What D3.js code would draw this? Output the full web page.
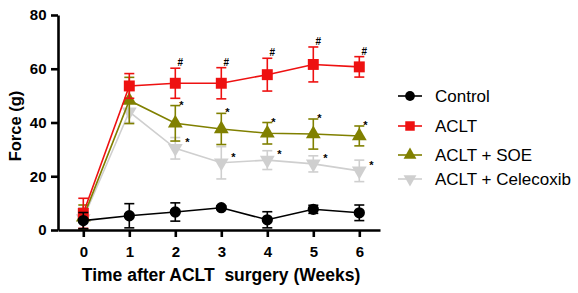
<!DOCTYPE html>
<html><head><meta charset="utf-8">
<script src="https://cdn.jsdelivr.net/npm/d3@7"></script>
<style>body{margin:0;background:#fff}svg{display:block}</style>
</head><body>
<svg id="c" width="578" height="293"></svg>
<script>
const weeks = [0,1,2,3,4,5,6];
const yTicks = [0,20,40,60,80];
const seriesNames = ["Control","ACLT","ACLT + SOE","ACLT + Celecoxib"];
const controlMean = [3.5,5.3,6.7,8.3,3.8,7.7,6.4];
const controlErr  = [3.0,4.5,3.4,0.6,3.0,1.5,2.9];
const acltMean    = [6.2,53.6,54.6,54.6,57.8,61.6,60.7];
const acltErr     = [5.6,4.6,5.6,5.8,6.1,6.5,3.8];
const soeMean     = [4.8,48.2,39.7,37.6,36.0,35.7,35.0];
const soeErr      = [4.5,8.6,6.6,5.8,4.0,5.6,3.7];
const celMean     = [4.3,44.0,30.4,25.0,26.0,24.6,22.0];
const celErr      = [4.0,4.0,4.0,6.0,3.5,3.0,4.0];
const acltMarks   = ["","","#","#","#","#","#"];
const soeMarks    = ["","","*","*","*","*","*"];
const celMarks    = ["","","*","*","*","*","*"];
const xTitle = "Time after ACLT  surgery (Weeks)";
const yTitle = "Force (g)";

const colors = ["#000000","#ee1111","#808000","#cfcfcf"];
const shapes = [d3.symbolCircle,d3.symbolSquare,d3.symbolTriangle,"down"];
const series = [
  {name:seriesNames[0],mean:controlMean,err:controlErr,marks:null},
  {name:seriesNames[1],mean:acltMean,err:acltErr,marks:acltMarks},
  {name:seriesNames[2],mean:soeMean,err:soeErr,marks:soeMarks},
  {name:seriesNames[3],mean:celMean,err:celErr,marks:celMarks}
];

const svg = d3.select("#c");
const x = d3.scaleLinear().domain([-0.55,6.45]).range([58,380]);
const y = d3.scaleLinear().domain([0,80]).range([230,15]);
const font = "Liberation Sans, Arial, sans-serif";

function symPath(i,size){
  if(shapes[i]==="down"){
    return d3.symbol().type(d3.symbolTriangle).size(size)();
  }
  return d3.symbol().type(shapes[i]).size(size)();
}
const sizes = [100,120,95,95];

const order = [3,2,1,0];
order.forEach(i=>{
  const s = series[i];
  const g = svg.append("g");
  const line = d3.line().x((d,j)=>x(weeks[j])).y(d=>y(d));
  g.append("path").attr("d",line(s.mean)).attr("fill","none")
    .attr("stroke",colors[i]).attr("stroke-width",1.6);
  weeks.forEach((w,j)=>{
    const cx = x(w), t = y(s.mean[j]+s.err[j]), b = y(Math.max(0,s.mean[j]-s.err[j]));
    g.append("line").attr("x1",cx).attr("x2",cx).attr("y1",t).attr("y2",b)
      .attr("stroke",colors[i]).attr("stroke-width",1.6);
    [t,b].forEach(yy=>g.append("line").attr("x1",cx-5).attr("x2",cx+5).attr("y1",yy).attr("y2",yy)
      .attr("stroke",colors[i]).attr("stroke-width",1.6));
  });
  weeks.forEach((w,j)=>{
    const rot = shapes[i]==="down" ? " rotate(180)" : "";
    g.append("path").attr("d",symPath(i,sizes[i]))
      .attr("transform",`translate(${x(w)},${y(s.mean[j])})${rot}`)
      .attr("fill",colors[i]);
  });
});

weeks.forEach((w,j)=>{
  if(acltMarks[j]) svg.append("text").attr("x",x(w)+5).attr("y",y(acltMean[j]+acltErr[j])-2)
    .attr("text-anchor","middle").attr("font-family",font).attr("font-size",10).attr("font-weight","bold").text(acltMarks[j]);
  if(soeMarks[j]) svg.append("text").attr("x",x(w)+6).attr("y",y(soeMean[j]+soeErr[j])+3)
    .attr("text-anchor","middle").attr("font-family",font).attr("font-size",11).attr("font-weight","bold").text(soeMarks[j]);
  if(celMarks[j]) svg.append("text").attr("x",x(w)+12).attr("y",y(celMean[j])-2)
    .attr("text-anchor","middle").attr("font-family",font).attr("font-size",11).attr("font-weight","bold").text(celMarks[j]);
});

const xa = svg.append("g").attr("transform","translate(0,230)")
  .call(d3.axisBottom(x).tickValues(weeks).tickFormat(d3.format("d")).tickSize(7).tickSizeOuter(0));
const ya = svg.append("g").attr("transform","translate(58,0)")
  .call(d3.axisLeft(y).tickValues(yTicks).tickSize(7).tickSizeOuter(0));
[xa,ya].forEach(a=>{
  a.select(".domain").attr("stroke","#000").attr("stroke-width",2.6);
  a.selectAll(".tick line").attr("stroke","#000").attr("stroke-width",2.6);
  a.selectAll(".tick text").attr("font-family",font).attr("font-size",15).attr("font-weight","bold").attr("fill","#000");
});
xa.selectAll(".tick text").attr("dy","1.1em");
ya.selectAll(".tick text").attr("dx","-0.1em");

svg.append("text").attr("x",221).attr("y",281).attr("text-anchor","middle")
  .attr("xml:space","preserve").style("white-space","pre")
  .attr("font-family",font).attr("font-size",17.5).attr("font-weight","bold").text(xTitle);
svg.append("text").attr("transform","translate(21,126) rotate(-90)").attr("text-anchor","middle")
  .attr("font-family",font).attr("font-size",16.5).attr("font-weight","bold").text(yTitle);

const ly = [96,126,155,179];
series.forEach((s,i)=>{
  const g = svg.append("g").attr("transform",`translate(0,${ly[i]})`);
  g.append("line").attr("x1",398).attr("x2",422).attr("y1",0).attr("y2",0)
    .attr("stroke",colors[i]).attr("stroke-width",1.6);
  const rot = shapes[i]==="down" ? " rotate(180)" : "";
  g.append("path").attr("d",symPath(i,sizes[i]*0.75)).attr("transform",`translate(410,0)${rot}`).attr("fill",colors[i]);
  g.append("text").attr("x",435).attr("y",6).attr("font-family",font).attr("font-size",17)
    .attr("fill","#000").text(s.name);
});
</script>
</body></html>
